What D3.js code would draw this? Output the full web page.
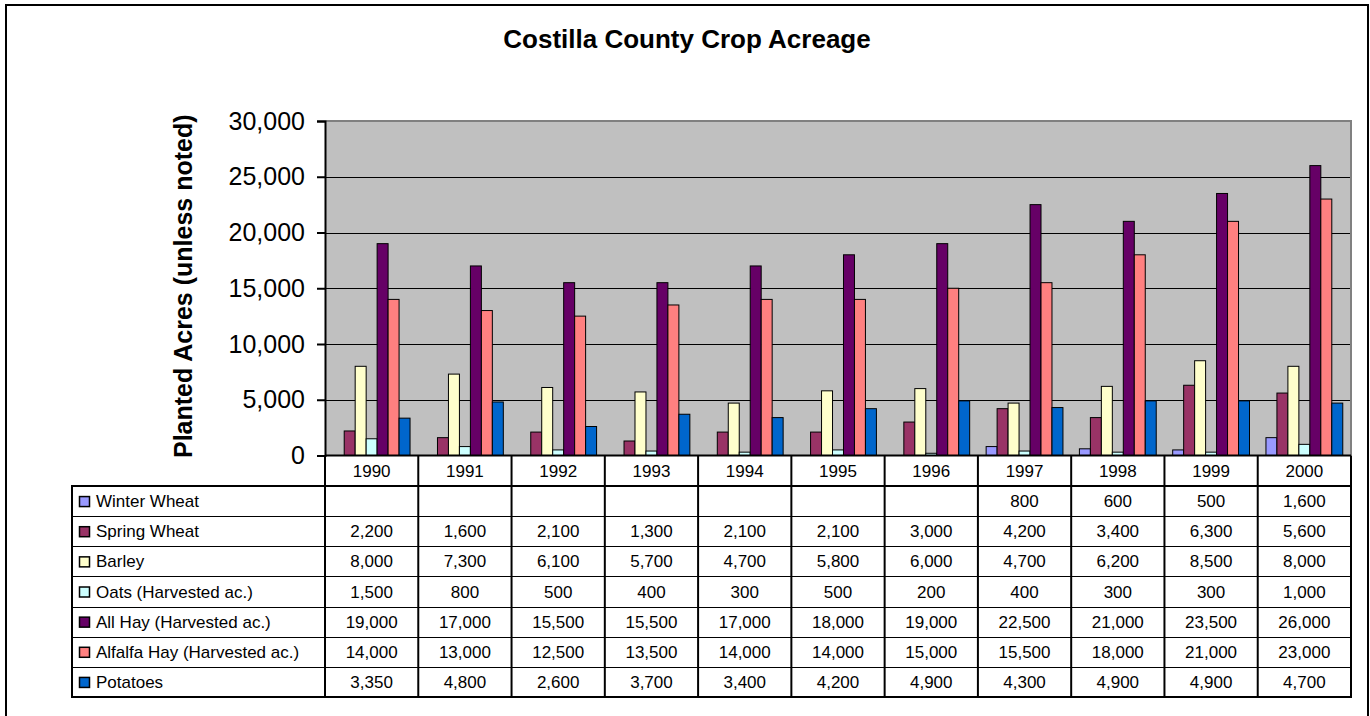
<!DOCTYPE html>
<html lang="en">
<head>
  <meta charset="UTF-8">
  <title>Costilla County Crop Acreage</title>
  <script src="https://d3js.org/d3.v7.min.js"></script>
  <style>
    body { margin: 0; background: #fff; }
    svg { display: block; font-family: "Liberation Sans", Arial, sans-serif; }
  </style>
</head>
<body>
  <svg id="chart" width="1370" height="716"></svg>

  <script>
    // Data
    const years = ["1990", "1991", "1992", "1993", "1994", "1995", "1996", "1997", "1998", "1999", "2000"];
    const seriesNames = ["Winter Wheat", "Spring Wheat", "Barley", "Oats (Harvested ac.)",
                         "All Hay (Harvested ac.)", "Alfalfa Hay (Harvested ac.)", "Potatoes"];
    const winterWheat = [null, null, null, null, null, null, null, 800, 600, 500, 1600];
    const springWheat = [2200, 1600, 2100, 1300, 2100, 2100, 3000, 4200, 3400, 6300, 5600];
    const barley      = [8000, 7300, 6100, 5700, 4700, 5800, 6000, 4700, 6200, 8500, 8000];
    const oats        = [1500, 800, 500, 400, 300, 500, 200, 400, 300, 300, 1000];
    const allHay      = [19000, 17000, 15500, 15500, 17000, 18000, 19000, 22500, 21000, 23500, 26000];
    const alfalfaHay  = [14000, 13000, 12500, 13500, 14000, 14000, 15000, 15500, 18000, 21000, 23000];
    const potatoes    = [3350, 4800, 2600, 3700, 3400, 4200, 4900, 4300, 4900, 4900, 4700];
    const yTicks = [0, 5000, 10000, 15000, 20000, 25000, 30000];

    const colors = ["#9999FF", "#993366", "#FFFFCC", "#CCFFFF", "#660066", "#FF8080", "#0066CC"];
    const values = [winterWheat, springWheat, barley, oats, allHay, alfalfaHay, potatoes];

    const series = seriesNames.map((name, i) => ({ name, color: colors[i], values: values[i] }));

    // Layout
    const plot = { left: 325, right: 1351, top: 121, bottom: 455.5 };
    const table = { left: 72, yearTop: 455.5, top: 486, bottom: 697 };
    const rowH = (table.bottom - table.top) / series.length;
    const fmt = d3.format(",");

    const svg = d3.select("#chart");

    // Outer frame
    svg.append("rect")
       .attr("x", 6).attr("y", 5)
       .attr("width", 1362).attr("height", 730)
       .attr("fill", "none")
       .attr("stroke", "#000")
       .attr("stroke-width", 2);

    // Scales
    const x0 = d3.scaleBand()
                 .domain(years)
                 .range([plot.left, plot.right])
                 .paddingInner(0).paddingOuter(0);

    const x1 = d3.scaleBand()
                 .domain(d3.range(series.length))
                 .range([0, x0.bandwidth()])
                 .paddingInner(0).paddingOuter(0.75);

    const y = d3.scaleLinear()
                .domain([0, 30000])
                .range([plot.bottom, plot.top]);

    // Plot background
    svg.append("rect")
       .attr("x", plot.left).attr("y", plot.top)
       .attr("width", plot.right - plot.left)
       .attr("height", plot.bottom - plot.top)
       .attr("fill", "#C0C0C0");

    // Gridlines
    svg.append("g")
       .selectAll("line")
       .data(yTicks.filter(d => d > 0 && d < 30000))
       .enter().append("line")
       .attr("x1", plot.left).attr("x2", plot.right)
       .attr("y1", d => Math.round(y(d)) + 0.5).attr("y2", d => Math.round(y(d)) + 0.5)
       .attr("stroke", "#000")
       .attr("stroke-width", 1);

    // Plot border (top + right)
    svg.append("path")
       .attr("d", `M${plot.left},${plot.top}H${plot.right}V${plot.bottom}`)
       .attr("fill", "none")
       .attr("stroke", "#808080")
       .attr("stroke-width", 2);

    // Bars
    svg.append("g")
       .selectAll("g")
       .data(series)
       .enter().append("g")
       .attr("fill", d => d.color)
       .each(function (s, si) {
         d3.select(this).selectAll("rect")
           .data(s.values.map((v, i) => ({ year: years[i], v })).filter(d => d.v != null))
           .enter().append("rect")
           .attr("x", d => x0(d.year) + x1(si))
           .attr("y", d => y(d.v))
           .attr("width", x1.bandwidth())
           .attr("height", d => y(0) - y(d.v))
           .attr("stroke", "#000")
           .attr("stroke-width", 1);
       });

    // Y axis
    const yAxis = svg.append("g")
       .attr("transform", `translate(${plot.left},0)`)
       .call(d3.axisLeft(y).tickValues(yTicks).tickFormat(fmt).tickSizeInner(8).tickSizeOuter(8).tickPadding(12));
    yAxis.selectAll("path, line").attr("stroke", "#000").attr("stroke-width", 2);
    yAxis.selectAll("text")
         .attr("font-size", 25)
         .attr("fill", "#000")
         .attr("font-family", "Liberation Sans, Arial, sans-serif");

    // Y axis label
    svg.append("text")
       .attr("transform", `translate(192,${(plot.top + plot.bottom) / 2 - 2}) rotate(-90)`)
       .attr("text-anchor", "middle")
       .attr("font-size", 25)
       .attr("font-weight", "bold")
       .text("Planted Acres (unless noted)");

    // Title
    svg.append("text")
       .attr("x", 687)
       .attr("y", 48)
       .attr("text-anchor", "middle")
       .attr("font-size", 26)
       .attr("font-weight", "bold")
       .text("Costilla County Crop Acreage");

    // Data table
    const tbl = svg.append("g");

    // year labels
    tbl.selectAll(".year")
       .data(years)
       .enter().append("text")
       .attr("class", "year")
       .attr("x", d => x0(d) + x0.bandwidth() / 2)
       .attr("y", (table.yearTop + table.top) / 2)
       .attr("dy", "0.35em")
       .attr("text-anchor", "middle")
       .attr("font-size", 17)
       .text(d => d);

    // row lines (thin)
    tbl.selectAll(".rowline")
       .data(d3.range(1, series.length))
       .enter().append("line")
       .attr("x1", table.left).attr("x2", plot.right)
       .attr("y1", i => Math.round(table.top + i * rowH) + 0.5)
       .attr("y2", i => Math.round(table.top + i * rowH) + 0.5)
       .attr("stroke", "#000")
       .attr("stroke-width", 1);

    // row labels, keys and values
    const rows = tbl.selectAll(".row")
       .data(series)
       .enter().append("g")
       .attr("class", "row")
       .attr("transform", (d, i) => `translate(0,${table.top + i * rowH})`);

    rows.append("rect")
        .attr("x", 79.5).attr("y", rowH / 2 - 4.5)
        .attr("width", 10).attr("height", 10)
        .attr("fill", d => d.color)
        .attr("stroke", "#000")
        .attr("stroke-width", 1.5);

    rows.append("text")
        .attr("x", 96)
        .attr("y", rowH / 2)
        .attr("dy", "0.36em")
        .attr("font-size", 17)
        .text(d => d.name);

    rows.selectAll(".val")
        .data(d => d.values.map((v, i) => ({ year: years[i], v })).filter(d => d.v != null))
        .enter().append("text")
        .attr("class", "val")
        .attr("x", d => x0(d.year) + x0.bandwidth() / 2)
        .attr("y", rowH / 2)
        .attr("dy", "0.36em")
        .attr("text-anchor", "middle")
        .attr("font-size", 17)
        .text(d => fmt(d.v));

    // vertical separators between years
    tbl.selectAll(".vline")
       .data(years.slice(1))
       .enter().append("line")
       .attr("x1", d => x0(d)).attr("x2", d => x0(d))
       .attr("y1", table.yearTop).attr("y2", table.bottom)
       .attr("stroke", "#000")
       .attr("stroke-width", 2);

    // thick borders: label box, year row bottom, right edge, bottom
    tbl.append("path")
       .attr("d", `M${plot.left},${table.top}H${table.left}V${table.bottom}H${plot.right}V${table.yearTop}` +
                  `M${plot.left},${table.yearTop}V${table.bottom}` +
                  `M${plot.left},${table.top}H${plot.right}` +
                  `M${plot.left},${table.yearTop}H${plot.right}`)
       .attr("fill", "none")
       .attr("stroke", "#000")
       .attr("stroke-width", 2);
  </script>
</body>
</html>
